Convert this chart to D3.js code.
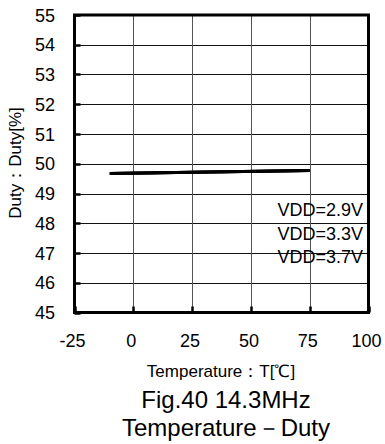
<!DOCTYPE html>
<html><head><meta charset="utf-8">
<script src="https://cdn.jsdelivr.net/npm/d3@7"></script>
<style>body{margin:0;background:#fff}svg{display:block}text{font-family:"Liberation Sans",Arial,sans-serif;fill:#000}</style>
</head><body><svg width="385" height="444"></svg>
<script>
const temps = [-10, 75];
const vdd29 = [49.67, 49.77];
const vdd33 = [49.67, 49.77];
const vdd37 = [49.67, 49.77];
const seriesLabels = ["VDD=2.9V", "VDD=3.3V", "VDD=3.7V"];
const xTicks = [-25, 0, 25, 50, 75, 100];
const yTicks = [45, 46, 47, 48, 49, 50, 51, 52, 53, 54, 55];

const svg = d3.select("svg");
const L = 74.5, R = 368.5, T = 15, B = 312.5;
const x = d3.scaleLinear().domain([-25, 100]).range([L, R]);
const y = d3.scaleLinear().domain([45, 55]).range([B, T]);

// grid
svg.append("g").selectAll("line").data(yTicks).join("line")
  .attr("x1", L).attr("x2", R).attr("y1", d => Math.round(y(d)) + 0.5).attr("y2", d => Math.round(y(d)) + 0.5)
  .attr("stroke", "#111").attr("stroke-width", 1);
svg.append("g").selectAll("line").data(xTicks).join("line")
  .attr("y1", T).attr("y2", B).attr("x1", d => Math.round(x(d)) + 0.5).attr("x2", d => Math.round(x(d)) + 0.5)
  .attr("stroke", "#555").attr("stroke-width", 1);
// ticks
svg.append("g").selectAll("line").data(yTicks).join("line")
  .attr("x1", L).attr("x2", L + 6).attr("y1", d => Math.round(y(d)) + 0.5).attr("y2", d => Math.round(y(d)) + 0.5)
  .attr("stroke", "#000").attr("stroke-width", 2.5);
svg.append("g").selectAll("line").data(xTicks).join("line")
  .attr("y1", B).attr("y2", B - 6).attr("x1", d => Math.round(x(d)) + 0.5).attr("x2", d => Math.round(x(d)) + 0.5)
  .attr("stroke", "#000").attr("stroke-width", 2.5);
// border
svg.append("rect").attr("x", L).attr("y", T).attr("width", R - L).attr("height", B - T)
  .attr("fill", "none").attr("stroke", "#000").attr("stroke-width", 3);

// data lines
const line = d3.line().x((d, i) => x(temps[i])).y(d => y(d));
[vdd29, vdd33, vdd37].forEach(s => {
  svg.append("path").datum(s).attr("d", line).attr("fill", "none").attr("stroke", "#000").attr("stroke-width", 3);
});

// series labels
svg.append("g").selectAll("text").data(seriesLabels).join("text")
  .attr("x", 363).attr("y", (d, i) => 216 + i * 23.5).attr("text-anchor", "end")
  .attr("font-size", 18).text(d => d);

// tick labels
svg.append("g").selectAll("text").data(yTicks).join("text")
  .attr("x", 55).attr("y", d => y(d) + 6.5).attr("text-anchor", "end").attr("font-size", 18).text(d => d);
svg.append("g").selectAll("text").data(xTicks).join("text")
  .attr("x", d => x(d) - 2).attr("y", 346.5).attr("text-anchor", "middle").attr("font-size", 18).text(d => d);

// axis titles
svg.append("text").attr("transform", "translate(21,163) rotate(-90)").attr("text-anchor", "middle")
  .attr("font-size", 17).text("Duty：Duty[%]");
svg.append("text").attr("x", 221).attr("y", 377).attr("text-anchor", "middle").attr("font-size", 17).text("Temperature：T[℃]");
svg.append("text").attr("x", 226).attr("y", 408).attr("text-anchor", "middle").attr("font-size", 24).text("Fig.40 14.3MHz");
svg.append("text").attr("x", 226).attr("y", 436).attr("text-anchor", "middle").attr("font-size", 24).text("Temperature－Duty");
</script></body></html>
